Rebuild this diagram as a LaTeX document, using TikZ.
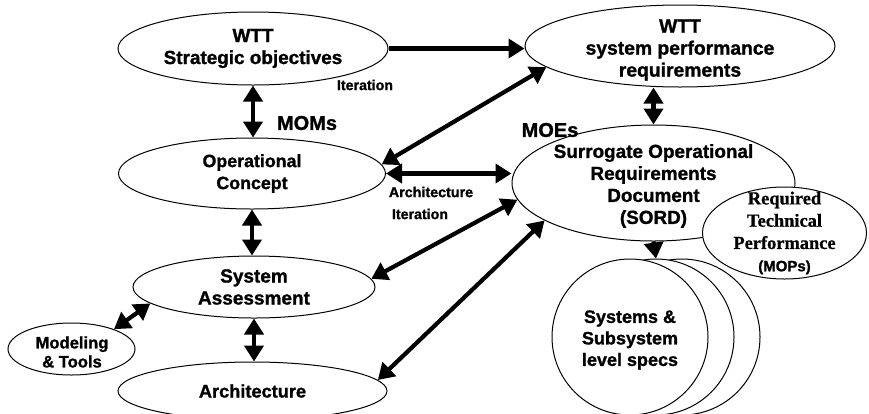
\documentclass[tikz,border=0pt]{standalone}
\usepackage{fontspec}
\setmainfont{Liberation Sans}[BoldFeatures={FakeBold=1.2}]
\newfontfamily\serifbf{Liberation Serif}[BoldFeatures={FakeBold=0.8}]
\usetikzlibrary{shapes.geometric,arrows.meta}
\tikzset{
  ell/.style={ellipse, draw, line width=1pt, fill=white, inner sep=0pt, align=center},
  fs/.style={font=\fontsize{#1}{22}\selectfont\bfseries},
  txt/.style={align=center, inner sep=0pt, font=\fontsize{#1}{22}\selectfont\bfseries},
  dbl/.style={line width=4.2pt, {Triangle[length=16pt,width=19pt]}-{Triangle[length=16pt,width=19pt]}},
  sgl/.style={line width=4.2pt, -{Triangle[length=16pt,width=19pt]}},
  lbl/.style={font=\fontsize{#1}{16}\selectfont\bfseries, inner sep=0pt},
  circ/.style={circle, draw, line width=1pt, fill=white, minimum size=156, inner sep=0pt},
}
\begin{document}
\begin{tikzpicture}[x=1pt,y=-1pt]
\useasboundingbox (0,0) rectangle (869,413);
\clip (0,0) rectangle (869,413);
\fill[white] (0,0) rectangle (869,413);
% ellipses
\node[ell, fs=18.9, minimum width=270, minimum height=73] (strat) at (253,48.5) {WTT\\Strategic objectives};
\node[ell, minimum width=310, minimum height=82] (perf) at (680,46) {};
\node[txt=19.3] (perftxt) at (680,50) {WTT\\system performance\\requirements};
\node[ell, fs=17.8, minimum width=267, minimum height=71] (opcon) at (252,173.5) {Operational\\Concept};
\node[ell, minimum width=283, minimum height=116] (sord) at (653.5,183) {};
\node[txt=18.9] (sordtxt) at (653.5,186) {Surrogate Operational\\Requirements\\Document\\(SORD)};
\node[ell, fs=19, minimum width=242, minimum height=62] (sysass) at (254,287) {System\\Assessment};
\node[ell, minimum width=127, minimum height=52] (model) at (71.5,349) {};
\node[align=center, inner sep=0pt, font=\fontsize{16.6}{19}\selectfont\bfseries] (modeltxt) at (72,352) {Modeling\\\& Tools};
\node[ell, fs=18.2, minimum width=269, minimum height=58] (arch) at (252.5,391) {Architecture};
% stacked circles
\node[circ] (c3) at (682,337) {};
\node[circ] (c2) at (656,337) {};
\node[circ] (c1) at (630,337) {};
\node[align=center, inner sep=0pt, font=\fontsize{18}{21.5}\selectfont\bfseries] (c1txt) at (630,340) {Systems \&\\Subsystem\\level specs};
% MOPs ellipse on top of SORD
\node[ell, minimum width=164, minimum height=92] (mops) at (784.5,233) {};
\node[align=center, inner sep=0pt, font=\fontsize{18.4}{22.3}\selectfont\serifbf\bfseries] (mopstxt) at (784.5,233)
  {Required\\Technical\\Performance\\{\fontsize{15}{18}\selectfont\rmfamily\bfseries (MOPs)}};
% connectors
\draw[sgl] (strat.east) -- (strat.east -| perf.west);
\draw[dbl] (strat.south) -- (strat.south |- opcon.north);
\draw[dbl] (perf.189) -- (opcon.4);
\draw[dbl] (opcon.east) -- (opcon.east -| sord.west);
\draw[dbl] (sord.north |- perf.south) -- (sord.north);
\draw[dbl] (opcon.south) -- (opcon.south |- sysass.north);
\draw[dbl] (sysass.4) -- (sord.187);
\draw[dbl] (arch.5) -- (sord.199);
\draw[dbl] (model.25) -- (sysass.189.5);
\draw[dbl] (sysass.south) -- (sysass.south |- arch.north);
\draw[sgl] (sord.south) -- (c2.north);
% labels
\node[lbl=14.2] (it1) at (365,85) {Iteration};
\node[lbl=20] (moms) at (307,123) {MOMs};
\node[lbl=20] (moes) at (550,130) {MOEs};
\node[lbl=14.3] (archit) at (431,192) {Architecture};
\node[lbl=14.2] (it2) at (420,214) {Iteration};
\end{tikzpicture}
\end{document}
